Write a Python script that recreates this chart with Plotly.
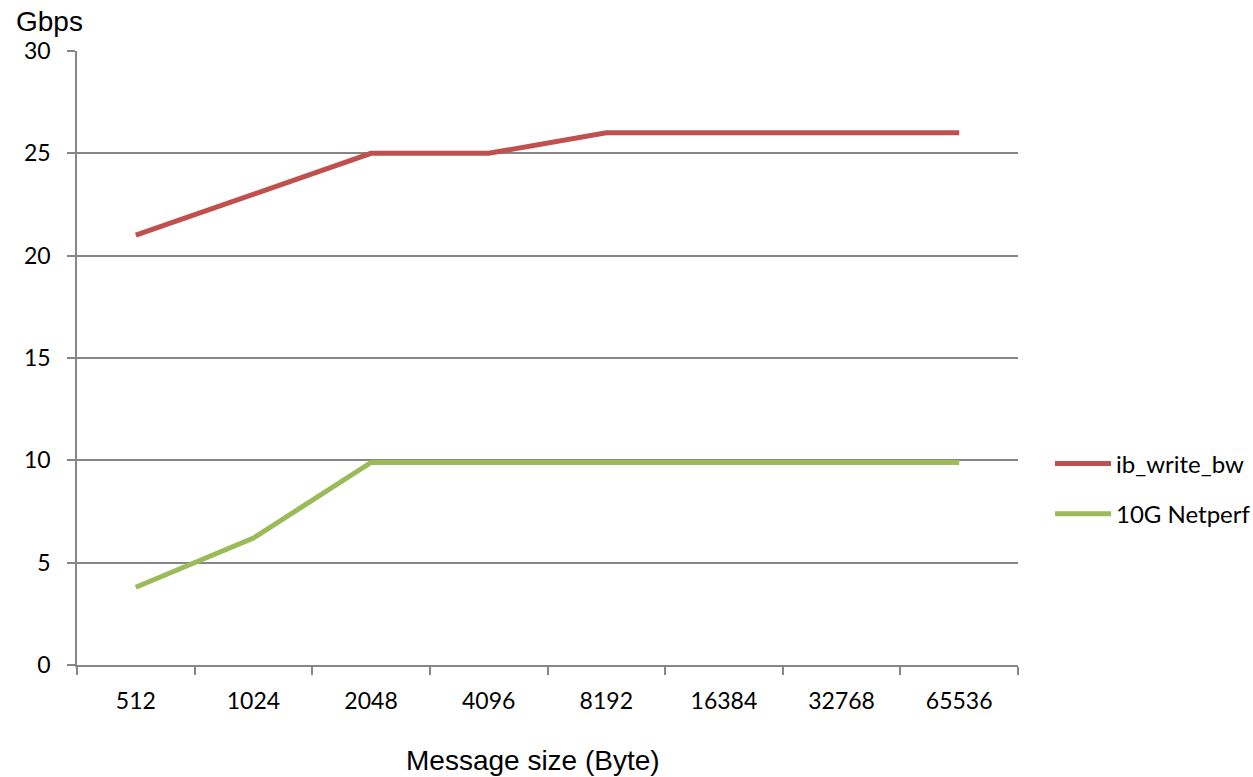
import plotly.graph_objects as go

categories = ["512", "1024", "2048", "4096", "8192", "16384", "32768", "65536"]
ib_write_bw = [21, 23, 25, 25, 26, 26, 26, 26]
netperf_10g = [3.8, 6.2, 9.9, 9.9, 9.9, 9.9, 9.9, 9.9]
y_ticks = [0, 5, 10, 15, 20, 25, 30]

# figure is a bit wider than the window so the legend never pushes the plot;
# the overflow is hidden
W, H = 1300, 777
L, R, T, B = 77, 1018, 51, 665


def px(xpage):
    return (xpage - L) / (R - L)


def py(ypage):
    return (B - ypage) / (B - T)


fig = go.Figure()
fig.add_trace(go.Scatter(x=categories, y=ib_write_bw, mode="lines", name="ib_write_bw",
                         legendgroup="a",
                         line=dict(color="#C0504D", width=5)))
fig.add_trace(go.Scatter(x=categories, y=netperf_10g, mode="lines", name="10G Netperf",
                         legendgroup="b",
                         line=dict(color="#9BBB59", width=5)))

tickfont = dict(family="Lato, Open Sans, sans-serif", size=23, color="#000000")
titlefont = dict(family="Liberation Sans, Arial, sans-serif", size=28, color="#000000")

fig.update_layout(
    width=W, height=H,
    margin=dict(l=L, r=W - R, t=T, b=H - B, pad=0),
    plot_bgcolor="white", paper_bgcolor="white",
    showlegend=True,
    legend=dict(x=px(1050), xanchor="left",
                y=py(489), yanchor="middle",
                font=dict(family="Lato, Open Sans, sans-serif", size=24, color="#000000"),
                itemwidth=56, tracegroupgap=16,
                traceorder="grouped", bgcolor="rgba(0,0,0,0)"),
    xaxis=dict(type="category", range=[-0.5, 7.5], showgrid=False,
               showline=True, linecolor="#868686", linewidth=1.5,
               ticks="outside", tickson="boundaries", ticklen=8,
               tickcolor="#868686", tickwidth=1.5, tickfont=tickfont,
               ticklabelstandoff=15, zeroline=False),
    yaxis=dict(range=[0, 30], tickvals=y_ticks, showgrid=True,
               gridcolor="#868686", gridwidth=1.5,
               showline=True, linecolor="#868686", linewidth=1.5,
               ticks="outside", ticklen=8, tickcolor="#868686", tickwidth=1.5,
               tickfont=tickfont, zeroline=False, ticklabelstandoff=12),
    annotations=[
        dict(text="Gbps", xref="paper", yref="paper",
             x=px(49), y=py(22),
             xanchor="center", yanchor="middle", showarrow=False,
             font=titlefont),
        dict(text="Message size (Byte)", xref="paper", yref="paper",
             x=px(533), y=py(760),
             xanchor="center", yanchor="middle", showarrow=False,
             font=titlefont),
    ],
)

fig.write_html(
    "out.html",
    config={"displayModeBar": False},
    post_script="document.body.style.margin='0';document.body.style.overflow='hidden';",
)
